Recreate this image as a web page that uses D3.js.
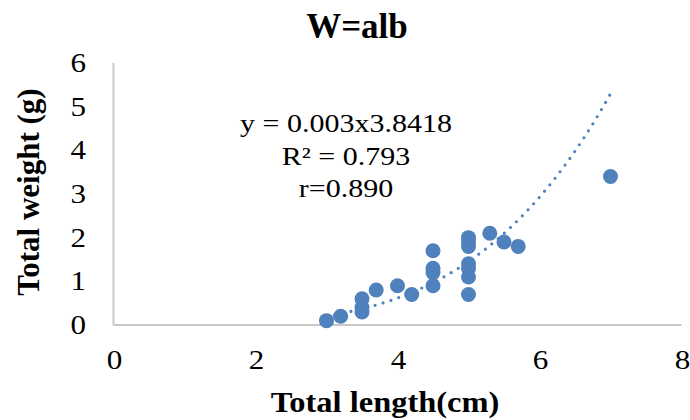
<!DOCTYPE html>
<html>
<head>
<meta charset="utf-8">
<script src="https://cdn.jsdelivr.net/npm/d3@7"></script>
<style>
  body { margin: 0; background: #fff; }
</style>
</head>
<body>
<svg id="chart" width="690" height="420"></svg>
<script>
// total length (cm) and total weight (g) of each fish
var lengths = [3.0, 3.2, 3.5, 3.5, 3.5, 3.7, 4.0, 4.2, 4.5, 4.5, 4.5, 4.5,
               5.0, 5.0, 5.0, 5.0, 5.0, 5.0, 5.0, 5.3, 5.5, 5.7, 7.0];
var weights = [0.1, 0.2, 0.3, 0.4, 0.6, 0.8, 0.9, 0.7, 0.9, 1.2, 1.3, 1.7,
               0.7, 1.1, 1.3, 1.4, 1.8, 1.9, 2.0, 2.1, 1.9, 1.8, 3.4];
var xTicks = [0, 2, 4, 6, 8];
var yTicks = [0, 1, 2, 3, 4, 5, 6];
// power trendline W = a * L^b
var fitA = 0.003, fitB = 3.8418;
var eqLines = ['y = 0.003x3.8418', 'R\u00b2 = 0.793', 'r=0.890'];

var svg = d3.select('#chart');
var blue = '#4f81bd';
var serif = '"Liberation Serif", "Times New Roman", serif';

var x = d3.scaleLinear().domain([0, 8]).range([113.5, 681.5]);
var y = d3.scaleLinear().domain([0, 6]).range([325, 63]);

// axis lines (left and bottom only)
svg.append('line')
    .attr('x1', x(0)).attr('x2', x(0))
    .attr('y1', y(0)).attr('y2', y(6))
    .attr('stroke', '#c8c8c8').attr('stroke-width', 2);
svg.append('line')
    .attr('x1', x(0)).attr('x2', x(8))
    .attr('y1', y(0)).attr('y2', y(0))
    .attr('stroke', '#c8c8c8').attr('stroke-width', 2);

// tick labels (text in the original is a bit wide, so stretch it)
svg.selectAll('.xlab')
    .data(xTicks)
    .enter().append('text')
    .attr('class', 'xlab')
    .attr('transform', d => 'translate(' + (x(d) + 1) + ',369) scale(1.15,1)')
    .attr('text-anchor', 'middle')
    .style('font-family', serif)
    .style('font-size', '27px')
    .text(d => d);

svg.selectAll('.ylab')
    .data(yTicks)
    .enter().append('text')
    .attr('class', 'ylab')
    .attr('transform', d => 'translate(86,' + (y(d) + 9) + ') scale(1.15,1)')
    .attr('text-anchor', 'end')
    .style('font-family', serif)
    .style('font-size', '27px')
    .text(d => d);

// trendline
var trend = d3.range(3, 7.0001, 0.05).map(v => [v, fitA * Math.pow(v, fitB)]);
svg.append('path')
    .datum(trend)
    .attr('d', d3.line().x(d => x(d[0])).y(d => y(d[1])))
    .attr('fill', 'none')
    .attr('stroke', blue)
    .attr('stroke-width', 3.2)
    .attr('stroke-linecap', 'round')
    .attr('stroke-dasharray', '0,8.3');

// points
svg.selectAll('.pt')
    .data(lengths)
    .enter().append('circle')
    .attr('class', 'pt')
    .attr('cx', d => x(d))
    .attr('cy', (d, i) => y(weights[i]))
    .attr('r', 7.5)
    .attr('fill', blue);

// equation label
svg.selectAll('.eq')
    .data(eqLines)
    .enter().append('text')
    .attr('class', 'eq')
    .attr('transform', (d, i) => 'translate(346,' + (132 + i * 32.5) + ') scale(1.2,1)')
    .attr('text-anchor', 'middle')
    .style('font-family', serif)
    .style('font-size', '25px')
    .text(d => d);

// titles
svg.append('text')
    .attr('x', 357)
    .attr('y', 38)
    .attr('text-anchor', 'middle')
    .style('font-family', serif)
    .style('font-size', '35px')
    .style('font-weight', 'bold')
    .text('W=alb');

svg.append('text')
    .attr('transform', 'translate(385,412) scale(1.12,1)')
    .attr('text-anchor', 'middle')
    .style('font-family', serif)
    .style('font-size', '29px')
    .style('font-weight', 'bold')
    .text('Total length(cm)');

svg.append('text')
    .attr('transform', 'translate(39,192) rotate(-90)')
    .attr('text-anchor', 'middle')
    .style('font-family', serif)
    .style('font-size', '31px')
    .style('font-weight', 'bold')
    .text('Total weight (g)');
</script>
</body>
</html>
